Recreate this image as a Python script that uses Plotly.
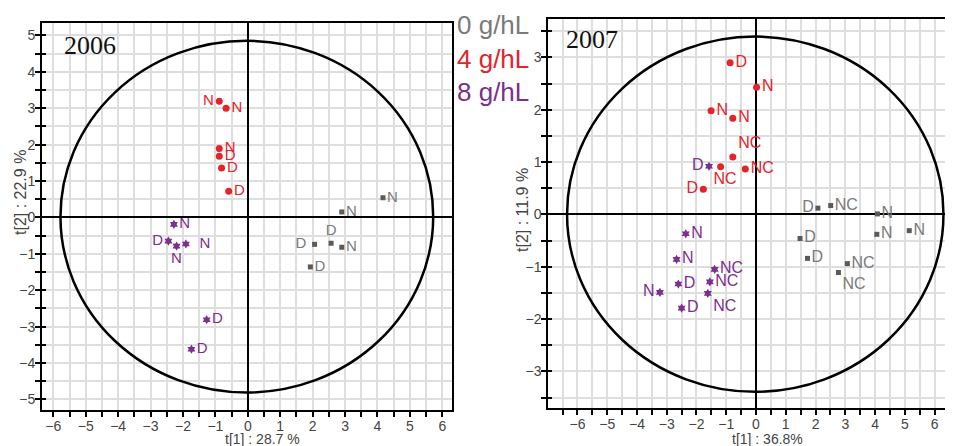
import plotly.graph_objects as go

# ---------------- data ----------------
# 2006 panel
g06_x = [4.17, 2.90, 2.06, 2.57, 2.90, 1.93]
g06_y = [0.54, 0.15, -0.74, -0.71, -0.82, -1.36]
g06_t = ["N", "N", "D ", "D", "N", "D"]
r06_x = [-0.88, -0.67, -0.88, -0.88, -0.81, -0.59]
r06_y = [3.19, 3.00, 1.89, 1.68, 1.36, 0.72]
r06_t = ["N", "N", "N", "D", "D", "D"]
p06_x = [-2.28, -2.45, -2.20, -1.91, -1.27, -1.74]
p06_y = [-0.19, -0.65, -0.79, -0.73, -2.81, -3.62]
p06_t = ["N", "D", "N", "  N", "D", "D"]

# 2007 panel
g07_x = [2.08, 2.51, 4.08, 4.06, 5.15, 1.48, 1.73, 3.07, 2.77]
g07_y = [0.12, 0.17, 0.01, -0.38, -0.31, -0.46, -0.84, -0.94, -1.11]
g07_t = ["D", "NC", "N", "N", "N", "D", "D", "NC", "NC"]
r07_x = [-0.87, 0.02, -1.51, -0.78, -0.78, -1.19, -0.36, -1.77]
r07_y = [2.90, 2.43, 1.98, 1.84, 1.10, 0.91, 0.87, 0.48]
r07_t = ["D", "N", "N", "N", "NC", "  NC", "NC", "D"]
p07_x = [-1.58, -2.36, -2.67, -2.61, -3.23, -2.50, -1.39, -1.55, -1.62]
p07_y = [0.92, -0.37, -0.86, -1.33, -1.49, -1.79, -1.05, -1.29, -1.51]
p07_t = ["D", "N", "N", "D", "N", "D", "NC", "NC", "NC"]

legend_labels = ["0 g/hL", "4 g/hL", "8 g/hL"]
years = ["2006", "2007"]
x_titles = ["t[1] : 28.7 %", "t[1] : 36.8%"]
y_titles = ["t[2] : 22.9 %", "t[2] : 11.9 %"]

# ---------------- styles ----------------
GREY_M, GREY_T = "#5a5a5a", "#7a7a7a"
RED = "#e4232b"
PURPLE = "#7b2f8f"

pos_g06 = ["middle right", "middle right", "middle left", "top center", "middle right", "middle right"]
pos_r06 = ["middle left", "middle right", "middle right", "middle right", "middle right", "middle right"]
pos_p06 = ["middle right", "middle left", "bottom center", "middle right", "middle right", "middle right"]
pos_g07 = ["middle left", "middle right", "middle right", "middle right", "middle right",
           "middle right", "middle right", "middle right", "bottom right"]
pos_r07 = ["middle right", "middle right", "middle right", "middle right", "top right",
           "bottom center", "middle right", "middle left"]
pos_p07 = ["middle left", "middle right", "middle right", "middle right", "middle left",
           "middle right", "middle right", "middle right", "bottom right"]

FONT = "Arial, Liberation Sans, sans-serif"
fig = go.Figure()


def add(x, y, t, pos, mcol, tcol, symbol, size, fsize, xa, ya):
    fig.add_trace(go.Scatter(
        x=x, y=y, text=t, mode="markers+text", textposition=pos,
        marker=dict(color=mcol, symbol=symbol, size=size, line=dict(width=0)),
        textfont=dict(color=tcol, size=fsize, family=FONT),
        xaxis=xa, yaxis=ya, showlegend=False, cliponaxis=False))


add(g06_x, g06_y, g06_t, pos_g06, GREY_M, GREY_T, "square", 5, 15, "x", "y")
add(r06_x, r06_y, r06_t, pos_r06, RED, RED, "circle", 7, 15, "x", "y")
add(p06_x, p06_y, p06_t, pos_p06, PURPLE, PURPLE, "hexagram", 7, 15, "x", "y")
add(g07_x, g07_y, g07_t, pos_g07, GREY_M, GREY_T, "square", 5, 16, "x2", "y2")
add(r07_x, r07_y, r07_t, pos_r07, RED, RED, "circle", 7, 16, "x2", "y2")
add(p07_x, p07_y, p07_t, pos_p07, PURPLE, PURPLE, "hexagram", 7, 16, "x2", "y2")

W, H = 945, 438
OFF = 8  # page body margin in the browser


def PX(sx):
    return (sx - OFF) / W


def PY(sy):
    return 1 - (sy - OFF) / H


GRID = "#dedede"
tickfont = dict(size=14, color="#444", family=FONT)


def axis(domain, rng, anchor, mirror, showline=True, ticks="outside"):
    return dict(
        domain=domain, range=rng, anchor=anchor, dtick=1, tick0=0, automargin=False,
        showgrid=True, gridcolor=GRID, gridwidth=1.5,
        zeroline=True, zerolinecolor="black", zerolinewidth=2,
        showline=showline, linecolor="black", linewidth=2, mirror=mirror,
        ticks=ticks, ticklen=5, tickwidth=2, tickcolor="black",
        tickfont=tickfont, ticklabelstandoff=-3,
        minor=dict(dtick=0.5, tick0=0, ticks=ticks, ticklen=5, tickwidth=2,
                   tickcolor="black", showgrid=True, gridcolor=GRID, gridwidth=1.5),
    )


def inner(over, anchor):
    return dict(overlaying=over, matches=over, anchor=anchor, side="left", showgrid=False,
                automargin=False, zeroline=False, showticklabels=False, ticks="inside",
                ticklen=4, tickwidth=2, tickcolor="black", dtick=1, tick0=0,
                minor=dict(dtick=0.5, tick0=0, ticks="inside", ticklen=4, tickwidth=2,
                           tickcolor="black", showgrid=False))


fig.update_layout(
    width=W, height=H, margin=dict(l=0, r=0, t=0, b=0, autoexpand=False),
    paper_bgcolor="white", plot_bgcolor="white",
    xaxis=axis([PX(42), PX(452)], [-6.35, 6.3], "y", True),
    yaxis=axis([PY(410), PY(23)], [-5.29, 5.34], "x", True),
    xaxis2=axis([PX(548.3), 1.0], [-6.98, 6.62], "y2", True),
    yaxis2=axis([PY(408), PY(19.3)], [-3.70, 3.73], "x2", False),
    yaxis3=inner("y", "x"),
    yaxis4=inner("y2", "x2"),
)
fig.add_trace(go.Scatter(x=[None], y=[None], xaxis="x", yaxis="y3", showlegend=False))
fig.add_trace(go.Scatter(x=[None], y=[None], xaxis="x2", yaxis="y4", showlegend=False))

# Hotelling ellipses
fig.add_shape(type="circle", xref="x", yref="y", x0=-5.78, x1=5.72, y0=-4.81, y1=4.85,
              line=dict(color="black", width=2.5), layer="above")
fig.add_shape(type="circle", xref="x2", yref="y2", x0=-6.35, x1=6.30, y0=-3.39, y1=3.40,
              line=dict(color="black", width=2.5), layer="above")

# year labels
for txt, (px, py) in zip(years, [(89.5, 45.5), (592, 39.5)]):
    fig.add_annotation(text=txt, x=PX(px), y=PY(py), xref="paper", yref="paper",
                       showarrow=False, xanchor="center", yanchor="middle",
                       font=dict(family="Liberation Serif, Times New Roman, serif", size=26, color="#111"))

# axis titles
for txt, (px, py) in zip(x_titles, [(262, 439), (767, 439)]):
    fig.add_annotation(text=txt, x=PX(px), y=PY(py), xref="paper", yref="paper",
                       showarrow=False, xanchor="center", yanchor="middle",
                       font=dict(size=14, color="#444", family=FONT))
for txt, (px, py) in zip(y_titles, [(20, 193), (523, 210)]):
    fig.add_annotation(text=txt, x=PX(px), y=PY(py), xref="paper", yref="paper",
                       showarrow=False, xanchor="center", yanchor="middle", textangle=-90,
                       font=dict(size=16, color="#444", family=FONT))

# legend texts
for txt, col, py in zip(legend_labels, [GREY_T, RED, PURPLE], [24.5, 59, 92]):
    fig.add_annotation(text=txt, x=PX(455), y=PY(py), xref="paper", yref="paper",
                       showarrow=False, xanchor="left", yanchor="middle",
                       font=dict(size=26, color=col, family=FONT))

fig.write_html("out.html")
